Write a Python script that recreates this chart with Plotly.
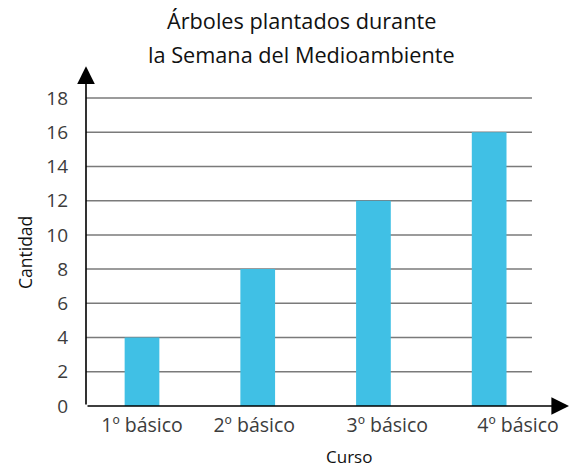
import plotly.graph_objects as go

# ---- data ----
cursos = ["1º básico", "2º básico", "3º básico", "4º básico"]
cantidad = [4, 8, 12, 16]
y_ticks = [0, 2, 4, 6, 8, 10, 12, 14, 16, 18]
title_lines = ["Árboles plantados durante", "la Semana del Medioambiente"]
x_title = "Curso"
y_title = "Cantidad"

# ---- layout constants ----
FONT = "Open Sans"
BAR_COLOR = "#40C0E5"
GRID_COLOR = "#7a7a7a"
TEXT_COLOR = "#3c3c3c"
bar_pos = list(range(len(cursos)))
label_offsets = [0.0, -0.03, 0.12, 0.25]   # label placement relative to bars
label_pos = [p + o for p, o in zip(bar_pos, label_offsets)]
X_RANGE = [-0.484, 3.69]
Y_RANGE = [0, 20.22]
GRID_X_END = 3.37
Y_ARROW_TOP = 19.85
X_ARROW_END = 3.69

fig = go.Figure()
fig.add_trace(go.Bar(
    x=bar_pos, y=cantidad, width=0.30,
    marker=dict(color=BAR_COLOR, line=dict(width=0)),
    hoverinfo="skip",
))

shapes = []
for v in y_ticks[1:]:
    shapes.append(dict(type="line", xref="x", yref="y",
                       x0=X_RANGE[0], x1=GRID_X_END, y0=v, y1=v,
                       line=dict(color=GRID_COLOR, width=1.5), layer="below"))

annotations = []
# axes with arrows
annotations.append(dict(x=X_RANGE[0], y=Y_ARROW_TOP, ax=X_RANGE[0], ay=0,
                        xref="x", yref="y", axref="x", ayref="y",
                        text="", showarrow=True, arrowhead=2, arrowsize=2.2,
                        arrowwidth=1.6, arrowcolor="#000000", standoff=0))
annotations.append(dict(x=X_ARROW_END, y=0, ax=X_RANGE[0], ay=0,
                        xref="x", yref="y", axref="x", ayref="y",
                        text="", showarrow=True, arrowhead=2, arrowsize=2.2,
                        arrowwidth=1.6, arrowcolor="#000000", standoff=0))
# title lines
annotations.append(dict(text=title_lines[0], x=(301 - 86) / 483, y=(406 - 21) / 346,
                        xref="paper", yref="paper", showarrow=False,
                        xanchor="center", yanchor="middle",
                        font=dict(family=FONT, size=21.7, color="#111111")))
annotations.append(dict(text=title_lines[1], x=(301 - 86) / 483, y=(406 - 55) / 346,
                        xref="paper", yref="paper", showarrow=False,
                        xanchor="center", yanchor="middle",
                        font=dict(family=FONT, size=21.7, color="#111111")))
# axis titles
annotations.append(dict(text=x_title, x=(349 - 86) / 483, y=-(456 - 406) / 346,
                        xref="paper", yref="paper", showarrow=False,
                        xanchor="center", yanchor="middle",
                        font=dict(family=FONT, size=17, color="#111111")))
annotations.append(dict(text=y_title, x=-(86 - 25) / 483, y=(406 - 253) / 346,
                        xref="paper", yref="paper", showarrow=False, textangle=-90,
                        xanchor="center", yanchor="middle",
                        font=dict(family=FONT, size=17.5, color="#111111")))

fig.update_layout(
    width=569, height=468,
    margin=dict(l=86, r=0, t=60, b=62, autoexpand=False),
    paper_bgcolor="white", plot_bgcolor="white",
    showlegend=False,
    shapes=shapes,
    annotations=annotations,
    xaxis=dict(range=X_RANGE, tickvals=label_pos, ticktext=cursos,
               showgrid=False, zeroline=False, showline=False, ticks="",
               automargin=False, ticklabelstandoff=5,
               tickfont=dict(family=FONT, size=19.5, color=TEXT_COLOR),
               fixedrange=True),
    yaxis=dict(range=Y_RANGE, tickvals=y_ticks,
               showgrid=False, zeroline=False, showline=False, ticks="",
               automargin=False, ticklabelstandoff=17,
               tickfont=dict(family=FONT, size=19, color=TEXT_COLOR),
               fixedrange=True),
    bargap=0.6,
)

fig.write_html("out.html", config={"displayModeBar": False},
               post_script="document.body.style.margin='0';document.body.style.overflow='hidden';")
